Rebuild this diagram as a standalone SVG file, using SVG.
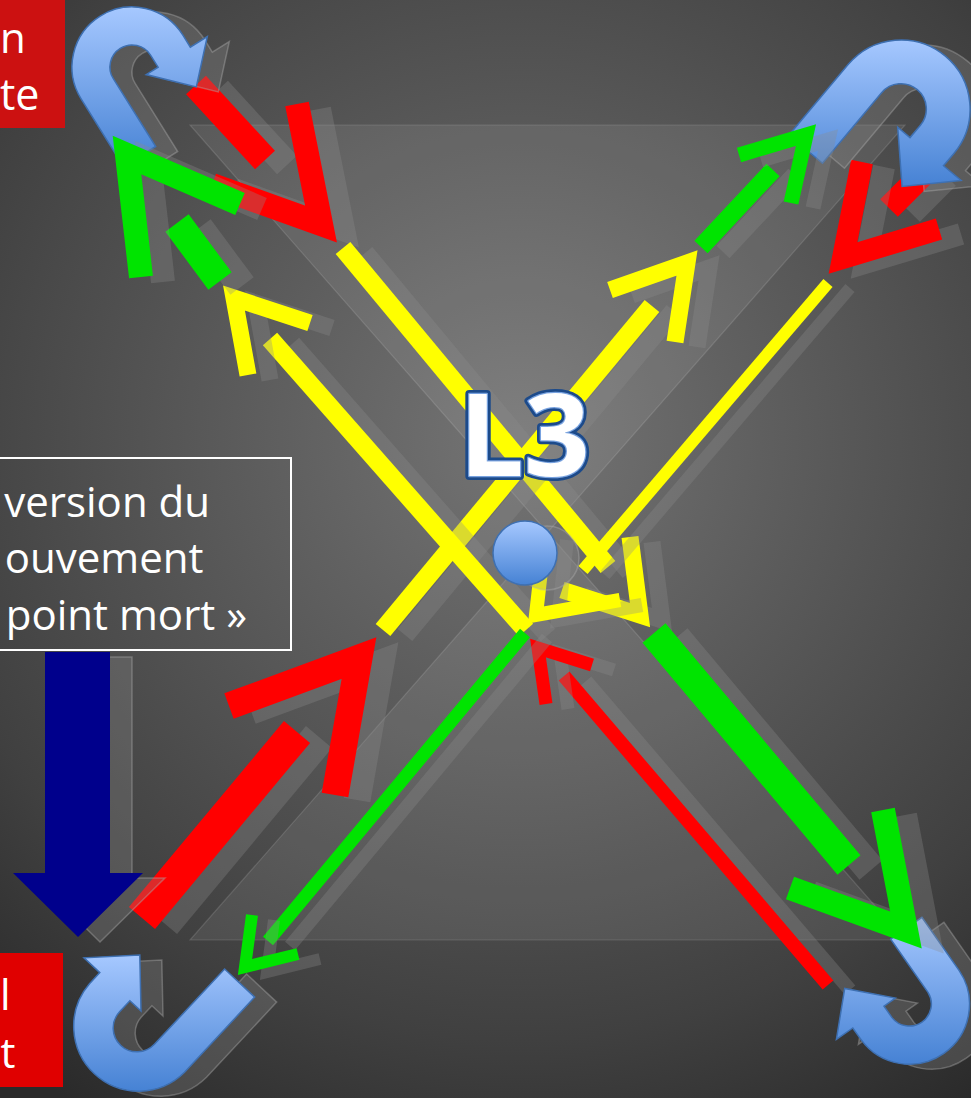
<svg xmlns="http://www.w3.org/2000/svg" width="971" height="1098" viewBox="0 0 971 1098">
<defs>
  <radialGradient id="bg" cx="520" cy="440" r="800" gradientUnits="userSpaceOnUse">
    <stop offset="0" stop-color="#747474"/>
    <stop offset="0.3" stop-color="#5f5f5f"/>
    <stop offset="0.75" stop-color="#404040"/>
    <stop offset="1" stop-color="#2a2a2a"/>
  </radialGradient>
  <linearGradient id="blue" x1="0" y1="0" x2="0" y2="1">
    <stop offset="0" stop-color="#a6c8ff"/>
    <stop offset="1" stop-color="#4682d4"/>
  </linearGradient>
  <!-- U-turn arrows -->
  <path id="uTL" d="M123.5,166.6 L81.1,98.8 A60,60 0 0 1 182.9,35.2 L190.3,47.1 L207.3,36.5 L196.3,86.9 L146.2,74.6 L158.1,67.2 L150.7,55.3 A22,22 0 0 0 113.3,78.7 L155.7,146.5 Z"/>
  <path id="uTR" d="M789.0,135.1 L848.1,64.6 A69,69 0 0 1 953.9,153.4 L943.5,165.7 L961.1,180.5 L902.1,186.5 L897.7,127.2 L910.0,137.6 L920.4,125.3 A25.3,25.3 0 0 0 881.6,92.7 L822.5,163.2 Z"/>
  <path id="uBL" d="M254.7,997.1 L184.5,1072.3 A65,65 0 0 1 89.5,983.7 L99.8,972.6 L84.0,957.8 L139.8,955.1 L141.0,1011.0 L129.9,1000.7 L119.6,1011.8 A23.8,23.8 0 0 0 154.4,1044.3 L224.6,969.0 Z"/>
  <path id="uBR" d="M921.9,917.3 L959.2,970.6 A60,60 0 0 1 860.9,1039.4 L852.8,1028.0 L836.4,1039.4 L844.7,988.5 L895.4,998.1 L884.0,1006.2 L892.0,1017.6 A22,22 0 0 0 928.0,992.4 L890.7,939.1 Z"/>
  <path id="down" d="M45,652 H110 V873 H143 L78,937 L13,873 H45 Z"/>
  <circle id="dot" cx="525" cy="553" r="32"/>
  <!-- red -->
  <line id="r1" x1="196" y1="85" x2="265" y2="160" stroke-width="27"/>
  <polyline id="r1h" points="297,104 321,224 212,185" stroke-width="24"/>
  <line id="r2" x1="889" y1="208" x2="925" y2="172" stroke-width="25"/>
  <polyline id="r2h" points="862,162 843,258 939,229" stroke-width="22"/>
  <line id="r3" x1="142" y1="918" x2="297" y2="732" stroke-width="34"/>
  <polyline id="r3h" points="229,706 359,658 335,795" stroke-width="27"/>
  <line id="r4" x1="564" y1="676" x2="828" y2="985" stroke-width="14"/>
  <polyline id="r4h" points="546,704 538,648 592,665" stroke-width="13"/>
  <!-- yellow -->
  <line id="y1" x1="270" y1="339" x2="526" y2="630" stroke-width="19"/>
  <polyline id="y1h" points="248,375 234,298 310,323" stroke-width="17"/>
  <line id="y2" x1="343" y1="248" x2="608" y2="567" stroke-width="19"/>
  <polyline id="y2h" points="630,537 640,615 562,590" stroke-width="17"/>
  <line id="y3" x1="383" y1="630" x2="652" y2="306" stroke-width="19"/>
  <polyline id="y3h" points="610,290 687,263 675,342" stroke-width="17"/>
  <line id="y4" x1="828" y1="283" x2="583" y2="570" stroke-width="12"/>
  <polyline id="y4h" points="545,535 536,615 620,600" stroke-width="14"/>
  <!-- green -->
  <line id="g1" x1="177" y1="223" x2="220" y2="281" stroke-width="29"/>
  <polyline id="g1h" points="141,277 127,155 240,204" stroke-width="24"/>
  <line id="g2" x1="701" y1="247" x2="773" y2="170" stroke-width="18"/>
  <polyline id="g2h" points="739,155 806,135 791,203" stroke-width="15"/>
  <line id="g3" x1="654" y1="633" x2="849" y2="865" stroke-width="30"/>
  <polyline id="g3h" points="883,810 906,930 790,888" stroke-width="24"/>
  <line id="g4" x1="525" y1="633" x2="268" y2="941" stroke-width="13"/>
  <polyline id="g4h" points="252,915 245,967 298,954" stroke-width="12"/>
</defs>
<style>
  .sh { fill:#8c8c8c; fill-opacity:0.3; stroke:#b0b0b0; stroke-opacity:0.4; stroke-width:1.5 }
  .shl { fill:none; stroke:#8c8c8c; stroke-opacity:0.32 }
  .bl { fill:url(#blue); stroke:#3e70b2; stroke-width:1.5 }
  .r { fill:none; stroke:#ff0000 }
  .y { fill:none; stroke:#ffff00 }
  .g { fill:none; stroke:#00e400 }
  .txt { font-family:"Open Sans","Liberation Sans",sans-serif; fill:#ffffff }
  .l3 { font-family:"Open Sans","Liberation Sans",sans-serif; font-size:115px; font-weight:700; fill:#ffffff; stroke-linejoin:round }
</style>

<g id="background">
  <rect x="0" y="0" width="971" height="1098" fill="url(#bg)"/>
  <path d="M190,125 H905 L547.5,532.5 Z M190,940 H905 L547.5,532.5 Z" fill="#ffffff" fill-opacity="0.08" stroke="#ffffff" stroke-opacity="0.13" stroke-width="1.2"/>
</g>

<g id="connectors">
  <g id="red-arrows">
    <use href="#r1" class="shl" transform="translate(22,5)"/><use href="#r1" class="r"/>
    <use href="#r1h" class="shl" transform="translate(22,5)"/><use href="#r1h" class="r"/>
    <use href="#r2" class="shl" transform="translate(22,5)"/><use href="#r2" class="r"/>
    <use href="#r2h" class="shl" transform="translate(22,5)"/><use href="#r2h" class="r"/>
    <use href="#r3" class="shl" transform="translate(22,5)"/><use href="#r3" class="r"/>
    <use href="#r3h" class="shl" transform="translate(22,5)"/><use href="#r3h" class="r"/>
    <use href="#r4" class="shl" transform="translate(22,5)"/><use href="#r4" class="r"/>
    <use href="#r4h" class="shl" transform="translate(22,5)"/><use href="#r4h" class="r"/>
  </g>
  <g id="uturns">
    <use href="#uTL" class="sh" transform="translate(22,5)"/><use href="#uTL" class="bl"/>
    <use href="#uTR" class="sh" transform="translate(22,5)"/><use href="#uTR" class="bl"/>
    <use href="#uBL" class="sh" transform="translate(22,5)"/><use href="#uBL" class="bl"/>
    <use href="#uBR" class="sh" transform="translate(22,5)"/><use href="#uBR" class="bl"/>
  </g>
  <g id="down-arrow">
    <use href="#down" class="sh" transform="translate(22,5)"/>
    <use href="#down" fill="#00008c"/>
  </g>
  <g id="yellow-arrows">
    <use href="#y2" class="shl" transform="translate(22,5)"/><use href="#y2" class="y"/>
    <use href="#y2h" class="shl" transform="translate(22,5)"/><use href="#y2h" class="y"/>
    <use href="#y3" class="shl" transform="translate(22,5)"/><use href="#y3" class="y"/>
    <use href="#y3h" class="shl" transform="translate(22,5)"/><use href="#y3h" class="y"/>
    <use href="#y1" class="shl" transform="translate(22,5)"/><use href="#y1" class="y"/>
    <use href="#y1h" class="shl" transform="translate(22,5)"/><use href="#y1h" class="y"/>
    <use href="#y4" class="shl" transform="translate(22,5)"/><use href="#y4" class="y"/>
    <use href="#y4h" class="shl" transform="translate(22,5)"/><use href="#y4h" class="y"/>
  </g>
  <g id="green-arrows">
    <use href="#g1" class="shl" transform="translate(22,5)"/><use href="#g1" class="g"/>
    <use href="#g1h" class="shl" transform="translate(22,5)"/><use href="#g1h" class="g"/>
    <use href="#g2" class="shl" transform="translate(22,5)"/><use href="#g2" class="g"/>
    <use href="#g2h" class="shl" transform="translate(22,5)"/><use href="#g2h" class="g"/>
    <use href="#g3" class="shl" transform="translate(22,5)"/><use href="#g3" class="g"/>
    <use href="#g3h" class="shl" transform="translate(22,5)"/><use href="#g3h" class="g"/>
    <use href="#g4" class="shl" transform="translate(22,5)"/><use href="#g4" class="g"/>
    <use href="#g4h" class="shl" transform="translate(22,5)"/><use href="#g4h" class="g"/>
  </g>
</g>

<g id="pivot">
  <use href="#dot" class="sh" transform="translate(22,5)"/>
  <use href="#dot" class="bl"/>
</g>

<g id="title-L3">
  <text class="l3" x="459" y="476" stroke="#1c4a8a" stroke-width="8">L3</text>
  <text class="l3" x="459" y="476" stroke="#78a2df" stroke-width="2.5">L3</text>
  <text class="l3" x="459" y="476">L3</text>
</g>

<g id="note-box">
  <rect x="-10" y="458" width="301" height="192" fill="none" stroke="#ffffff" stroke-width="2"/>
  <text class="txt" x="210" y="517" font-size="42" text-anchor="end">version du</text>
  <text class="txt" x="203.5" y="573" font-size="42" text-anchor="end">ouvement</text>
  <text class="txt" x="247" y="630" font-size="42" text-anchor="end">point mort »</text>
</g>

<g id="label-top">
  <rect x="0" y="0" width="65" height="128" fill="#cc1111"/>
  <text class="txt" x="0" y="53" font-size="42">n</text>
  <text class="txt" x="0" y="110" font-size="43">te</text>
</g>

<g id="label-bottom">
  <rect x="0" y="953" width="63" height="134" fill="#e00000"/>
  <text class="txt" x="0" y="1010" font-size="42">l</text>
  <text class="txt" x="0.5" y="1068" font-size="42">t</text>
</g>
</svg>
